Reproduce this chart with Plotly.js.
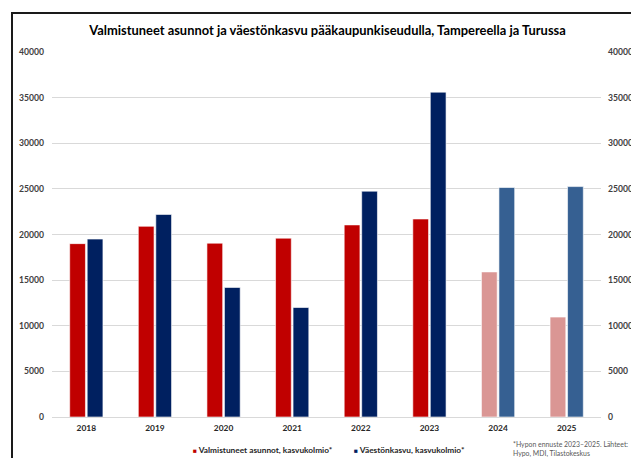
<!DOCTYPE html>
<html>
<head>
<meta charset="utf-8">
<script src="https://cdn.plot.ly/plotly-3.0.1.min.js"></script>
<style>
  html, body { margin: 0; padding: 0; background: #fff; overflow: hidden; }
  #wrap { position: relative; width: 631px; height: 458px; overflow: hidden; }
  #chart { position: absolute; left: 0; top: 0; width: 631px; height: 458px; }
  #frame { position: absolute; left: 11px; top: 12px; width: 700px; height: 500px;
           border-left: 2px solid #1a1a1a; border-top: 2px solid #1a1a1a; pointer-events: none; }
</style>
</head>
<body>
<div id="wrap">
  <div id="chart"></div>
  <div id="frame"></div>
</div>
<script>
// ---- data ----
const years = ["2018", "2019", "2020", "2021", "2022", "2023", "2024", "2025"];
const completedHomes = [19000, 20900, 19050, 19600, 21050, 21700, 15900, 10950];
const populationGrowth = [19500, 22200, 14200, 12000, 24750, 35600, 25150, 25250];
const forecastYears = ["2024", "2025"];
const seriesNames = ["Valmistuneet asunnot, kasvukolmio*", "Väestönkasvu, kasvukolmio*"];
const titleText = "Valmistuneet asunnot ja väestönkasvu pääkaupunkiseudulla, Tampereella ja Turussa";
const footnoteLines = ["*Hypon ennuste 2023–2025. Lähteet:", "Hypo, MDI, Tilastokeskus"];
const yTicks = [0, 5000, 10000, 15000, 20000, 25000, 30000, 35000, 40000];

// ---- styles ----
const FAM = "Lato";
const FONT = "Lato, 'Liberation Sans', sans-serif";
const RED = "#C00000", RED_LIGHT = "#DA9694";
const NAVY = "#002060", BLUE_LIGHT = "#366092";
const isForecast = y => forecastYears.includes(y);

// font size that makes a text span a given pixel width
const cv = document.createElement("canvas").getContext("2d");
function fit(text, weight, target) {
  cv.font = weight + " 100px " + FAM;
  const w = cv.measureText(text).width;
  return Math.round(100 * target / w * 10) / 10;
}

const tickSize = fit("40000", "bold", 25);
const xTickSize = fit("2018", "bold", 19.5);
const titleSize = fit(titleText, "bold", 477);
const legSize = fit(seriesNames[0], "bold", 134);
const noteSize = fit(footnoteLines[1], "normal", 77);

const traces = [
  {
    type: "bar", x: years, y: completedHomes, name: seriesNames[0],
    marker: { color: years.map(y => isForecast(y) ? RED_LIGHT : RED),
              line: { color: "rgba(255,255,255,0.6)", width: 1 } },
    showlegend: false
  },
  {
    type: "bar", x: years, y: populationGrowth, name: seriesNames[1],
    marker: { color: years.map(y => isForecast(y) ? BLUE_LIGHT : NAVY),
              line: { color: "rgba(255,255,255,0.6)", width: 1 } },
    showlegend: false
  },
  { type: "scatter", x: [years[0]], y: [null], yaxis: "y2", showlegend: false,
    hoverinfo: "skip", mode: "markers", marker: { opacity: 0 } }
];

const yFont = { family: FONT, size: tickSize, color: "#404040", weight: "bold" };
const xFont = { family: FONT, size: xTickSize, color: "#262626", weight: "bold" };
const L = 52, R = 30, T = 52, B = 41.4, W = 631, H = 458;
const pw = W - L - R, ph = H - T - B;
const px = xPix => (xPix - L) / pw;
const py = yPix => (H - B - yPix) / ph;

const layout = {
  width: W, height: H,
  margin: { l: L, r: R, t: T, b: B, pad: 0 },
  paper_bgcolor: "rgba(0,0,0,0)", plot_bgcolor: "rgba(0,0,0,0)",
  barmode: "group", bargap: 0.49, bargroupgap: 0.1,
  title: { text: titleText, x: px(327.5), xanchor: "center", xref: "paper",
           y: 1 - 30 / H, yanchor: "middle",
           font: { family: FONT, size: titleSize, color: "#000", weight: "bold" } },
  xaxis: { type: "category", showgrid: false, zeroline: false, showline: false,
           ticks: "", tickfont: xFont, ticklabelstandoff: 5 },
  yaxis: { range: [0, 40000], tickvals: yTicks, ticktext: yTicks.map(String),
           showgrid: true, gridcolor: "#d9d9d9", gridwidth: 1,
           zeroline: true, zerolinecolor: "#d9d9d9", zerolinewidth: 1,
           showline: false, ticks: "", tickfont: yFont, ticklabelstandoff: 7 },
  yaxis2: { range: [0, 40000], tickvals: yTicks, ticktext: yTicks.map(String),
            overlaying: "y", side: "right", showgrid: false, zeroline: false,
            showline: false, ticks: "", tickfont: yFont, ticklabelstandoff: 6 },
  showlegend: false,
  annotations: [
    { xref: "paper", yref: "paper", x: px(190.5), y: py(450), xanchor: "left", yanchor: "middle",
      showarrow: false, align: "left",
      text: "<span style='color:" + RED + ";font-size:" + (legSize * 0.8) + "px'>■</span> " + seriesNames[0],
      font: { family: FONT, size: legSize, color: "#262626", weight: "bold" } },
    { xref: "paper", yref: "paper", x: px(352), y: py(450), xanchor: "left", yanchor: "middle",
      showarrow: false, align: "left",
      text: "<span style='color:" + NAVY + ";font-size:" + (legSize * 0.8) + "px'>■</span> " + seriesNames[1],
      font: { family: FONT, size: legSize, color: "#262626", weight: "bold" } },
    { xref: "paper", yref: "paper", x: px(511), y: py(449), xanchor: "left", yanchor: "middle",
      showarrow: false, align: "left",
      text: footnoteLines.join("<br>"),
      font: { family: FONT, size: noteSize, color: "#595959" } }
  ]
};

Plotly.newPlot("chart", traces, layout, { displayModeBar: false, staticPlot: true });
</script>
</body>
</html>
